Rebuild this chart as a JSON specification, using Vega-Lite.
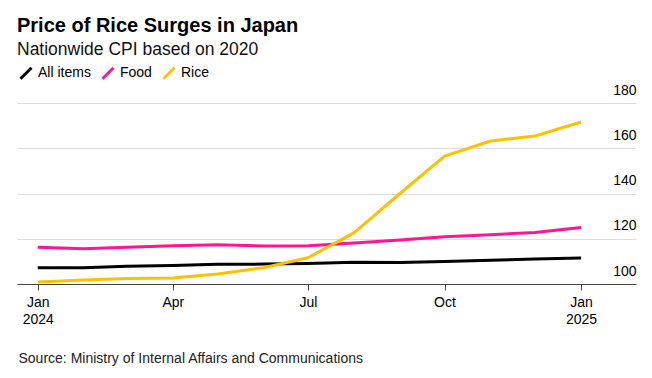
{
  "$schema": "https://vega.github.io/schema/vega-lite/v6.json",
  "autosize": "none",
  "width": 619,
  "height": 181,
  "padding": {"left": 17, "right": 16, "top": 103, "bottom": 94},
  "background": "#ffffff",
  "config": {
    "font": "Liberation Sans",
    "view": {"stroke": null}
  },
  "title": {
    "text": "Price of Rice Surges in Japan",
    "subtitle": "Nationwide CPI based on 2020",
    "anchor": "start",
    "frame": "group",
    "fontSize": 20,
    "fontWeight": "bold",
    "color": "#000000",
    "subtitleFontSize": 17.5,
    "subtitleColor": "#111111",
    "subtitlePadding": 5,
    "offset": 8
  },
  "data": {
    "values": [
      {"date": "2024-01-01", "series": "All items", "value": 107.2},
      {"date": "2024-02-01", "series": "All items", "value": 107.2},
      {"date": "2024-03-01", "series": "All items", "value": 107.8},
      {"date": "2024-04-01", "series": "All items", "value": 108.2},
      {"date": "2024-05-01", "series": "All items", "value": 108.7},
      {"date": "2024-06-01", "series": "All items", "value": 108.8},
      {"date": "2024-07-01", "series": "All items", "value": 109.1},
      {"date": "2024-08-01", "series": "All items", "value": 109.6},
      {"date": "2024-09-01", "series": "All items", "value": 109.5},
      {"date": "2024-10-01", "series": "All items", "value": 109.9},
      {"date": "2024-11-01", "series": "All items", "value": 110.5},
      {"date": "2024-12-01", "series": "All items", "value": 111.0},
      {"date": "2025-01-01", "series": "All items", "value": 111.5},
      {"date": "2024-01-01", "series": "Food", "value": 116.2},
      {"date": "2024-02-01", "series": "Food", "value": 115.6},
      {"date": "2024-03-01", "series": "Food", "value": 116.2},
      {"date": "2024-04-01", "series": "Food", "value": 116.9},
      {"date": "2024-05-01", "series": "Food", "value": 117.4},
      {"date": "2024-06-01", "series": "Food", "value": 116.8},
      {"date": "2024-07-01", "series": "Food", "value": 116.9},
      {"date": "2024-08-01", "series": "Food", "value": 118.1},
      {"date": "2024-09-01", "series": "Food", "value": 119.4},
      {"date": "2024-10-01", "series": "Food", "value": 120.9},
      {"date": "2024-11-01", "series": "Food", "value": 121.8},
      {"date": "2024-12-01", "series": "Food", "value": 122.8},
      {"date": "2025-01-01", "series": "Food", "value": 125.0},
      {"date": "2024-01-01", "series": "Rice", "value": 100.9},
      {"date": "2024-02-01", "series": "Rice", "value": 101.8},
      {"date": "2024-03-01", "series": "Rice", "value": 102.4},
      {"date": "2024-04-01", "series": "Rice", "value": 102.7},
      {"date": "2024-05-01", "series": "Rice", "value": 104.4},
      {"date": "2024-06-01", "series": "Rice", "value": 107.2},
      {"date": "2024-07-01", "series": "Rice", "value": 111.6},
      {"date": "2024-08-01", "series": "Rice", "value": 122.6},
      {"date": "2024-09-01", "series": "Rice", "value": 140.0},
      {"date": "2024-10-01", "series": "Rice", "value": 156.5},
      {"date": "2024-11-01", "series": "Rice", "value": 163.2},
      {"date": "2024-12-01", "series": "Rice", "value": 165.4},
      {"date": "2025-01-01", "series": "Rice", "value": 171.6}
    ]
  },
  "mark": {"type": "line", "strokeWidth": 3, "strokeCap": "butt", "strokeJoin": "round"},
  "encoding": {
    "x": {
      "field": "date",
      "type": "temporal",
      "scale": {
        "type": "utc",
        "domain": [
          {"year": 2023, "month": 12, "date": 18, "utc": true},
          {"year": 2025, "month": 2, "date": 7, "utc": true}
        ]
      },
      "axis": {
        "values": [
          {"year": 2024, "month": 1, "date": 1, "utc": true},
          {"year": 2024, "month": 4, "date": 1, "utc": true},
          {"year": 2024, "month": 7, "date": 1, "utc": true},
          {"year": 2024, "month": 10, "date": 1, "utc": true},
          {"year": 2025, "month": 1, "date": 1, "utc": true}
        ],
        "labelExpr": "utcmonth(datum.value) == 0 ? [utcFormat(datum.value, '%b'), utcFormat(datum.value, '%Y')] : utcFormat(datum.value, '%b')",
        "labelFontSize": 14,
        "labelColor": "#000000",
        "labelLineHeight": 17,
        "labelPadding": 5,
        "labelFlush": false,
        "labelOverlap": false,
        "grid": false,
        "domainColor": "#444444",
        "domainWidth": 1,
        "tickColor": "#444444",
        "tickSize": 6,
        "title": "Source: Ministry of Internal Affairs and Communications",
        "titleFontSize": 14,
        "titleFontWeight": "normal",
        "titleColor": "#222222",
        "titleAnchor": "start",
        "titleAlign": "left",
        "titleBaseline": "middle",
        "titleX": 1,
        "titleY": 74
      }
    },
    "y": {
      "field": "value",
      "type": "quantitative",
      "scale": {"domain": [100, 180], "nice": false, "zero": false},
      "axis": {
        "orient": "right",
        "values": [100, 120, 140, 160, 180],
        "domain": false,
        "ticks": false,
        "tickSize": 0,
        "labelPadding": 0,
        "labelAlign": "right",
        "labelBaseline": "alphabetic",
        "labelOffset": -9,
        "labelFontSize": 14,
        "labelColor": "#000000",
        "grid": true,
        "gridColor": "#dddddd",
        "gridWidth": 1,
        "title": null
      }
    },
    "color": {
      "field": "series",
      "type": "nominal",
      "scale": {"domain": ["All items", "Food", "Rice"], "range": ["#000000", "#ff1493", "#ffc000"]},
      "legend": {
        "title": null,
        "orient": "none",
        "direction": "horizontal",
        "legendX": 2,
        "legendY": -37,
        "padding": 0,
        "symbolType": "M-1,1L1,-1",
        "symbolSize": 121,
        "symbolStrokeWidth": 3,
        "labelFontSize": 14,
        "labelColor": "#000000",
        "labelOffset": 5,
        "columnPadding": 5
      }
    }
  }
}
